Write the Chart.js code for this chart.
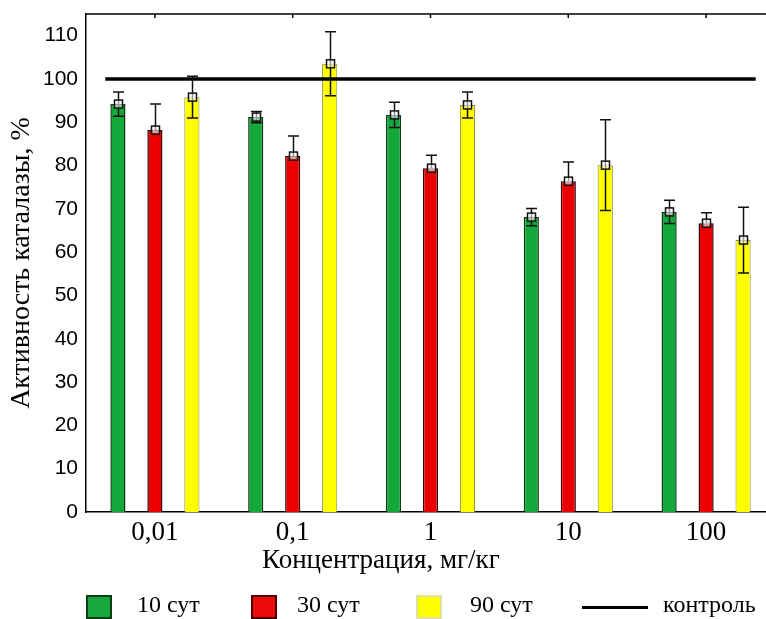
<!DOCTYPE html>
<html>
<head>
<meta charset="utf-8">
<script src="https://cdn.jsdelivr.net/npm/chart.js@4.4.1/dist/chart.umd.min.js"></script>
<style>
  html, body { margin: 0; padding: 0; background: #fff; overflow: hidden; }
  #wrap { position: relative; width: 766px; height: 619px; overflow: hidden; }
  #box { position: absolute; left: 0; top: 0; width: 780px; height: 619px; }
  .xtitle { position: absolute; left: 262px; top: 544px; font: 27px "Liberation Serif", serif; color: #000; white-space: nowrap; }
  .lg { position: absolute; top: 595px; height: 24px; }
  .sw { width: 26px; height: 24px; border: 2px solid #222; box-sizing: border-box; }
  .lt { position: absolute; top: 591px; font: 24px "Liberation Serif", serif; color: #000; white-space: nowrap; }
  .ln { position: absolute; top: 606px; height: 3px; background: #000; }
</style>
</head>
<body>
<div id="wrap">
  <div id="box"><canvas id="catalase"></canvas></div>
  <div class="xtitle">Концентрация, мг/кг</div>
  <div class="lg sw" style="left:86px;background:#17a83c;border-color:#0b3d16"></div>
  <div class="lt" style="left:137px">10 сут</div>
  <div class="lg sw" style="left:251px;background:#ec0a0a;border-color:#4a0000"></div>
  <div class="lt" style="left:297px">30 сут</div>
  <div class="lg sw" style="left:416px;background:#ffff00;border-color:#e0e0a0"></div>
  <div class="lt" style="left:470px">90 сут</div>
  <div class="ln" style="left:582px;width:66px"></div>
  <div class="lt" style="left:663px">контроль</div>
</div>
<script>
// Активность каталазы по концентрациям и срокам
const doses = ['0,01', '0,1', '1', '10', '100'];
const days10 = [94.2, 91.2, 91.7, 68.1, 69.3];
const days10Err = [2.8, 1.3, 2.9, 2.0, 2.7];
const days30 = [88.2, 82.2, 79.4, 76.4, 66.7];
const days30Err = [6.0, 4.6, 3.0, 4.4, 2.4];
const days90 = [95.8, 103.5, 94.0, 80.1, 62.8];
const days90Err = [4.8, 7.4, 3.0, 10.5, 7.6];
const controlLevel = 100;
const controlSpan = [-0.36, 4.36];   // in category units
const yTicks = [0, 10, 20, 30, 40, 50, 60, 70, 80, 90, 100, 110];

// horizontal control line, drawn over the bars
const controlLine = {
  id: 'controlLine',
  afterDatasetsDraw(chart) {
    const ctx = chart.ctx;
    const x = chart.scales.x, y = chart.scales.y;
    const x0 = x.getPixelForValue(0);
    const step = x.getPixelForValue(1) - x0;
    const py = y.getPixelForValue(controlLevel);
    ctx.save();
    ctx.strokeStyle = '#000';
    ctx.lineWidth = 3.5;
    ctx.beginPath();
    ctx.moveTo(x0 + controlSpan[0] * step, py);
    ctx.lineTo(x0 + controlSpan[1] * step, py);
    ctx.stroke();
    ctx.restore();
  }
};

// error bars with a small hollow square at the mean
const errorBars = {
  id: 'errorBars',
  afterDatasetsDraw(chart) {
    const ctx = chart.ctx;
    const y = chart.scales.y;
    chart.data.datasets.forEach((ds, i) => {
      if (!ds.errors) return;
      const meta = chart.getDatasetMeta(i);
      meta.data.forEach((bar, j) => {
        const v = ds.data[j], e = ds.errors[j];
        const top = y.getPixelForValue(v + e);
        const bot = y.getPixelForValue(v - e);
        const mid = y.getPixelForValue(v);
        const x = Math.round(bar.x) + 0.5;
        ctx.save();
        ctx.strokeStyle = '#111';
        ctx.lineWidth = 1.5;
        ctx.beginPath();
        ctx.moveTo(x, top);
        ctx.lineTo(x, ds.showLower ? bot : mid);
        ctx.moveTo(x - 5.5, top);
        ctx.lineTo(x + 5.5, top);
        if (ds.showLower) {
          ctx.moveTo(x - 5.5, bot);
          ctx.lineTo(x + 5.5, bot);
        }
        ctx.stroke();
        ctx.fillStyle = 'rgba(255,255,255,0.55)';
        ctx.fillRect(x - 4, mid - 4, 8, 8);
        ctx.strokeRect(x - 4, mid - 4, 8, 8);
        ctx.restore();
      });
    });
  }
};

// top frame line with short ticks at the category centres
const topFrame = {
  id: 'topFrame',
  afterDraw(chart) {
    const ctx = chart.ctx;
    const a = chart.chartArea;
    const x = chart.scales.x;
    ctx.save();
    ctx.strokeStyle = '#000';
    ctx.lineWidth = 1.5;
    ctx.beginPath();
    ctx.moveTo(a.left, a.top);
    ctx.lineTo(a.right, a.top);
    doses.forEach((d, i) => {
      const px = x.getPixelForValue(i);
      ctx.moveTo(px, a.top);
      ctx.lineTo(px, a.top + 4);
    });
    ctx.stroke();
    ctx.restore();
  }
};

// no extra room for half-labels at the axis ends
function noEdgePadding(s) {
  s.paddingTop = 0;
  s.paddingBottom = 0;
  s.paddingLeft = 0;
  s.paddingRight = 0;
}

const barStyle = {
  borderWidth: 1.5,
  categoryPercentage: 0.805,
  barPercentage: 0.41
};

new Chart(document.getElementById('catalase'), {
  type: 'bar',
  data: {
    labels: doses,
    datasets: [
      Object.assign({}, barStyle, {
        label: '10 сут', data: days10, errors: days10Err, showLower: true,
        backgroundColor: '#13a83a', borderColor: '#0b3a15'
      }),
      Object.assign({}, barStyle, {
        label: '30 сут', data: days30, errors: days30Err, showLower: false,
        backgroundColor: '#ea0000', borderColor: '#3d0000'
      }),
      Object.assign({}, barStyle, {
        label: '90 сут', data: days90, errors: days90Err, showLower: true,
        backgroundColor: '#ffff00', borderColor: '#8a8a50', borderWidth: 1
      })
    ]
  },
  options: {
    responsive: true,
    maintainAspectRatio: false,
    animation: false,
    layout: {padding: {top: 14, right: 5, bottom: 67, left: 0}},
    plugins: {
      legend: {display: false},
      tooltip: {enabled: false}
    },
    scales: {
      x: {
        offset: true,
        grid: {display: false, drawTicks: false},
        border: {display: true, color: '#000', width: 1.5},
        ticks: {
          color: '#000',
          padding: 5,
          font: {family: 'Liberation Serif', size: 27}
        },
        afterFit: s => { s.height = 40; noEdgePadding(s); }
      },
      y: {
        min: 0,
        max: 115,
        grid: {display: false, drawTicks: false},
        border: {display: true, color: '#000', width: 1.5},
        ticks: {
          color: '#000',
          padding: 8,
          font: {family: 'Liberation Sans', size: 21}
        },
        afterBuildTicks: s => { s.ticks = yTicks.map(v => ({value: v})); },
        afterFit: s => { s.width = 86; noEdgePadding(s); },
        title: {
          display: true,
          text: 'Активность каталазы, %',
          color: '#000',
          padding: {top: 5, bottom: 0},
          font: {family: 'Liberation Serif', size: 28}
        }
      }
    }
  },
  plugins: [controlLine, errorBars, topFrame]
});
</script>
</body>
</html>
